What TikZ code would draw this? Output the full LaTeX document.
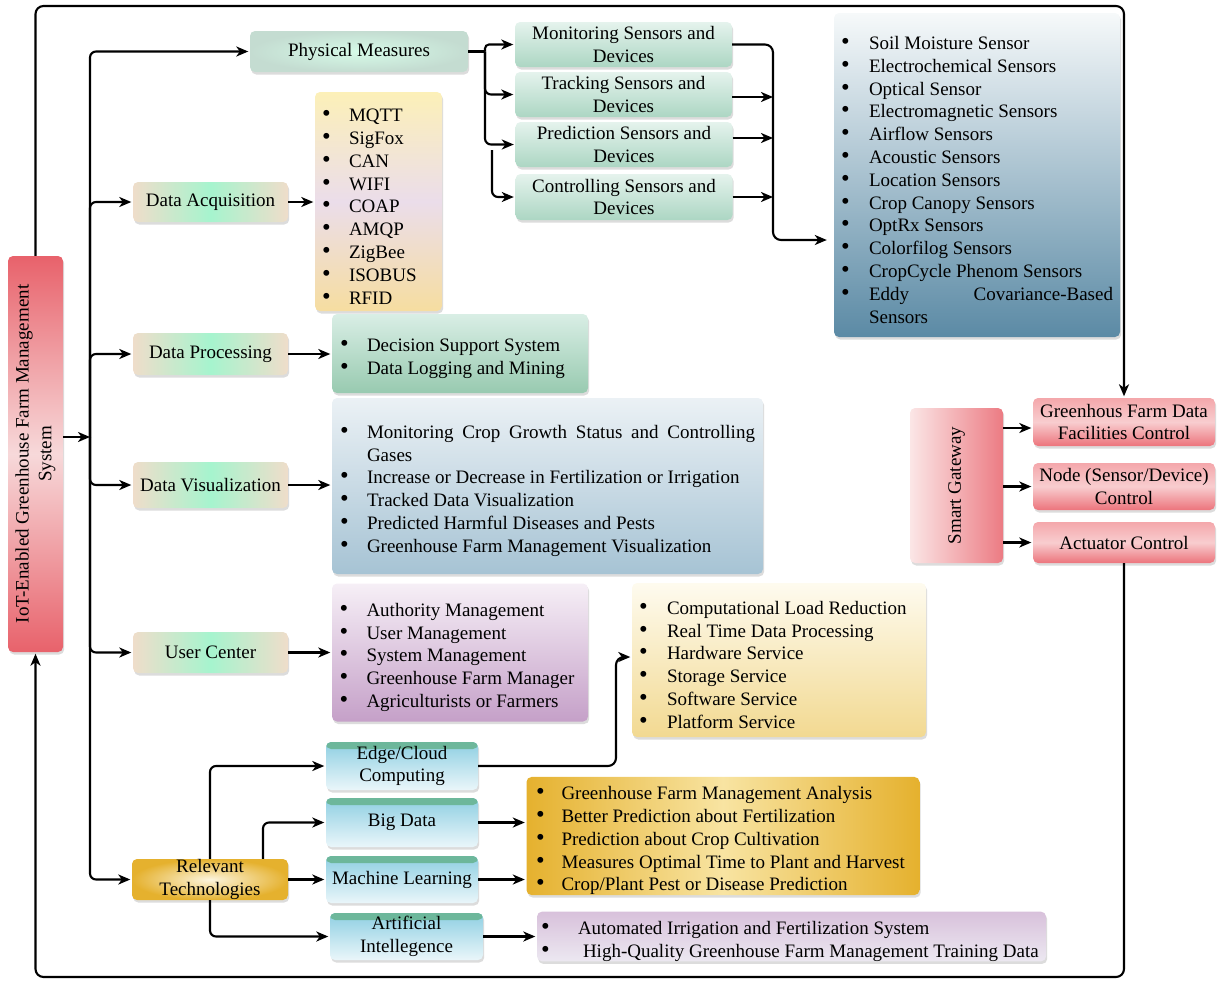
\documentclass[tikz,border=0pt]{standalone}
\usepackage{fontspec}
\setmainfont{Liberation Serif}
\usepackage{graphicx}
\usetikzlibrary{arrows.meta,shadows}
\tolerance=9999
\hbadness=10000

% palette
\definecolor{redA}{HTML}{E8626B}
\definecolor{redB}{HTML}{F7D9DA}
\definecolor{mintC}{HTML}{A6F4CE}
\definecolor{beigeO}{HTML}{EFDDCA}
\definecolor{pmIn}{HTML}{D6FBE8}
\definecolor{pmOut}{HTML}{C4DCD1}
\definecolor{senTop}{HTML}{E5F3ED}
\definecolor{senBot}{HTML}{ACD6C3}
\definecolor{slTop}{HTML}{F6F9FA}
\definecolor{slBot}{HTML}{5B8AA5}
\definecolor{mqTop}{HTML}{FCF0B8}
\definecolor{mqMid}{HTML}{EBDDEA}
\definecolor{mqBot}{HTML}{F6DDA0}
\definecolor{dpTop}{HTML}{D9EEE5}
\definecolor{dpBot}{HTML}{98CAB0}
\definecolor{dvTop}{HTML}{EBF1F5}
\definecolor{dvBot}{HTML}{A6C3D4}
\definecolor{ucTop}{HTML}{F6EFF6}
\definecolor{ucBot}{HTML}{C5A0C8}
\definecolor{clTop}{HTML}{FEFBEF}
\definecolor{clBot}{HTML}{F2D991}
\definecolor{goldE}{HTML}{E5B12E}
\definecolor{goldM}{HTML}{F8E4A2}
\definecolor{rtIn}{HTML}{FCF5DE}
\definecolor{aiTop}{HTML}{D8C1DB}
\definecolor{aiBot}{HTML}{ECE8F1}
\definecolor{techBand}{HTML}{6DB79B}
\definecolor{techTop}{HTML}{8ECFE2}
\definecolor{techBot}{HTML}{EAF6FA}
\definecolor{sgL}{HTML}{FBE6E6}
\definecolor{sgR}{HTML}{EC7B83}
\definecolor{ctTop}{HTML}{F4A7AB}
\definecolor{ctMid}{HTML}{F8CDCF}
\definecolor{ctBot}{HTML}{EC747C}

% one bullet entry of a list box; the optional argument is the hanging indent
\newcommand\litem[2][27pt]{\par\noindent\hangindent=#1\hangafter=1
  \makebox[#1][l]{\scalebox{1.3}{\textbullet}}#2\par}

\begin{document}
\begin{tikzpicture}[x=1pt,y=-1pt,
  every node/.style={font=\fontsize{19pt}{22.8pt}\selectfont},
  wire/.style={line width=2.1pt, rounded corners=6pt},
  conn/.style={wire, -{Stealth[length=12pt,width=10pt,inset=3.5pt]}, shorten >=1.5pt},
  box/.style={rounded corners=5pt, inner sep=0pt,
    drop shadow={shadow xshift=1.2pt, shadow yshift=-2.5pt, fill=black!25, opacity=0.55}},
  listbox/.style={box, align=justify, inner ysep=0pt},
  stage/.style={box, left color=beigeO, right color=beigeO, middle color=mintC,
    minimum width=155pt},
  sensor/.style={box, align=center, top color=senTop, bottom color=senBot, minimum width=217pt},
  tech/.style={box, align=center, top color=techTop, bottom color=techBot, minimum width=152pt,
    path picture={\fill[techBand] (path picture bounding box.north west)
      rectangle ([yshift=-7pt]path picture bounding box.north east);}},
  ctrl/.style={box, align=center, top color=ctTop, bottom color=ctBot, middle color=ctMid,
    minimum width=182pt},
]
\useasboundingbox (0,0) rectangle (1217,980);

% ---------- root and first level ----------
\node[box, top color=redA, bottom color=redA, middle color=redB,
      minimum width=55pt, minimum height=396pt] (iot) at (35.5,454)
  {\rotatebox{90}{\parbox{370pt}{\centering IoT-Enabled Greenhouse Farm Management\\System}}};

\node[box, inner color=pmIn, outer color=pmOut, minimum width=218pt, minimum height=41pt]
  (pm) at (359,51.5) {Physical Measures};
\node[stage, minimum height=40pt] (da) at (210.5,202) {Data Acquisition};
\node[stage, minimum height=42pt] (dp) at (210.5,354) {Data Processing};
\node[stage, minimum height=46pt] (dv) at (210.5,485) {Data Visualization};
\node[stage, minimum height=41pt] (uc) at (210.5,652.5) {User Center};
\node[box, align=center, inner color=rtIn, outer color=goldE, minimum width=156pt,
      minimum height=41pt] (rt) at (210,879.5) {Relevant\\Technologies};

% ---------- sensors and devices ----------
\node[sensor, minimum height=45pt] (mon) at (623.5,44.5) {Monitoring Sensors and\\Devices};
\node[sensor, minimum height=45pt] (trk) at (623.5,94.5) {Tracking Sensors and\\Devices};
\node[sensor, minimum height=45pt] (pre) at (624,144.5) {Prediction Sensors and\\Devices};
\node[sensor, minimum height=46pt] (con) at (624,197) {Controlling Sensors and\\Devices};

\node[listbox, top color=slTop, bottom color=slBot, text width=272pt, inner xsep=7pt,
      minimum height=324pt] (sl) at (977,175)
  {\litem[28pt]{Soil Moisture Sensor}
   \litem[28pt]{Electrochemical Sensors}
   \litem[28pt]{Optical Sensor}
   \litem[28pt]{Electromagnetic Sensors}
   \litem[28pt]{Airflow Sensors}
   \litem[28pt]{Acoustic Sensors}
   \litem[28pt]{Location Sensors}
   \litem[28pt]{Crop Canopy Sensors}
   \litem[28pt]{OptRx Sensors}
   \litem[28pt]{Colorfilog Sensors}
   \litem[28pt]{CropCycle Phenom Sensors}
   \litem[28pt]{Eddy\hfill Covariance-Based\break Sensors}};

% ---------- list boxes of the first level ----------
\node[listbox, top color=mqTop, bottom color=mqBot, middle color=mqMid, text width=113pt,
      inner xsep=7pt, minimum height=219pt] (mq) at (378.5,201.5)
  {\litem{MQTT}\litem{SigFox}\litem{CAN}\litem{WIFI}\litem{COAP}
   \litem{AMQP}\litem{ZigBee}\litem{ISOBUS}\litem{RFID}};

\node[listbox, top color=dpTop, bottom color=dpBot, text width=240pt, inner xsep=8pt,
      minimum height=79pt] (dpl) at (460,353.5)
  {\litem{Decision Support System}\litem{Data Logging and Mining}};

\node[listbox, top color=dvTop, bottom color=dvBot, text width=415pt, inner xsep=8pt,
      minimum height=176pt] (dvl) at (547.5,486)
  {\litem{Monitoring Crop Growth Status and Controlling\break Gases}
   \litem{Increase or Decrease in Fertilization or Irrigation}
   \litem{Tracked Data Visualization}
   \litem{Predicted Harmful Diseases and Pests}
   \litem{Greenhouse Farm Management Visualization}};

\node[listbox, top color=ucTop, bottom color=ucBot, text width=241pt, inner xsep=7.5pt,
      minimum height=138pt] (ucl) at (460,652.5)
  {\litem{Authority Management}\litem{User Management}\litem{System Management}
   \litem{Greenhouse Farm Manager}\litem{Agriculturists or Farmers}};

% ---------- relevant technologies ----------
\node[tech, minimum height=48pt] (ec) at (402,766) {Edge/Cloud\\Computing};
\node[tech, minimum height=49pt] (bd) at (402,822.5) {Big Data};
\node[tech, minimum height=47pt] (ml) at (402,879.5) {Machine Learning};
\node[tech, minimum width=153pt, minimum height=47pt] (ai) at (406.5,936.5) {Artificial\\Intellegence};

\node[listbox, top color=clTop, bottom color=clBot, text width=280pt, inner xsep=7pt,
      minimum height=154pt] (cl) at (779,660)
  {\litem[28pt]{Computational Load Reduction}
   \litem[28pt]{Real Time Data Processing}
   \litem[28pt]{Hardware Service}
   \litem[28pt]{Storage Service}
   \litem[28pt]{Software Service}
   \litem[28pt]{Platform Service}};

\node[listbox, left color=goldE, right color=goldE, middle color=goldM, text width=374pt,
      inner xsep=9.5pt, minimum height=114pt] (al) at (723,836)
  {\litem[25.5pt]{\mbox{Greenhouse Farm Management Analysis}}
   \litem[25.5pt]{\mbox{Better Prediction about Fertilization}}
   \litem[25.5pt]{\mbox{Prediction about Crop Cultivation}}
   \litem[25.5pt]{\mbox{Measures Optimal Time to Plant and Harvest}}
   \litem[25.5pt]{\mbox{Crop/Plant Pest or Disease Prediction}}};

\node[listbox, top color=aiTop, bottom color=aiBot, text width=501pt, inner xsep=4pt,
      minimum height=49pt] (ail) at (791.5,936.5)
  {\litem[37pt]{\mbox{Automated Irrigation and Fertilization System}}
   \litem[42pt]{\mbox{High-Quality Greenhouse Farm Management Training Data}}};

% ---------- gateway and control ----------
\node[box, left color=sgL, right color=sgR, minimum width=93pt, minimum height=155pt]
  (sg) at (956.5,485.5) {\rotatebox{90}{Smart Gateway}};
\node[ctrl, minimum height=48pt] (gd) at (1124,422) {Greenhous Farm Data\\Facilities Control};
\node[ctrl, minimum height=47pt] (nd) at (1124,486.5) {Node (Sensor/Device)\\Control};
\node[ctrl, minimum height=41pt] (ac) at (1124,542.5) {Actuator Control};

% ---------- connectors ----------
\coordinate (trunk) at (90,437);
\draw[conn, shorten >=0pt] (iot.east |- trunk) -- (trunk);
\foreach \n in {pm,da,dp,dv,uc,rt}
  \draw[conn] (trunk) |- (\n.west);

\draw[conn] (da.east) -- (mq.west |- da.east);
\draw[conn] (dp.east) -- (dpl.west |- dp.east);
\draw[conn] (dv.east) -- (dvl.west |- dv.east);
\draw[conn] (uc.east) -- (ucl.west |- uc.east);

% physical measures fan out to the sensor groups
\coordinate (pj) at (485,51.5);
\draw[wire] (pm.east) -- (pj);
\draw[conn, rounded corners=4pt] (pj) |- (mon.west);
\draw[conn] (pj) |- (trk.west);
\draw[conn] (pj) |- (pre.west);
\coordinate (cj) at (492,150);
\draw[conn] (cj) |- (con.west);

% sensor groups gather into the sensor list
\coordinate (sj) at (773,240);
\draw[conn, rounded corners=8pt, shorten >=7pt] (mon.east) -| (sj) -- (sl.west |- sj);
\draw[conn, shorten >=0pt] (trk.east |- 0,97) -- (sj |- 0,97);
\draw[conn, shorten >=0pt] (pre.east |- 0,138) -- (sj |- 0,138);
\draw[conn, shorten >=0pt] (con.east |- 0,197) -- (sj |- 0,197);

% relevant technologies
\draw[conn] (rt.north) |- (ec.west);
\draw[conn] ([xshift=53pt]rt.north) |- (bd.west);
\draw[conn] (rt.east) -- (ml.west);
\draw[conn] (rt.south) |- (ai.west);

\coordinate (ej) at (616,657);
\draw[conn, rounded corners=8pt] (ec.east) -| (ej) -- (cl.west |- ej);
\draw[conn] (bd.east) -- (al.west |- bd.east);
\draw[conn] (ml.east) -- (al.west |- ml.east);
\draw[conn] (ai.east) -- (ail.west |- ai.east);

% gateway to control units
\draw[conn] (sg.east |- 0,428) -- (gd.west |- 0,428);
\draw[conn] (sg.east |- nd.west) -- (nd.west);
\draw[conn] (sg.east |- ac.west) -- (ac.west);

% outer feedback loop
\coordinate (tl) at (35.5,6);
\coordinate (tr) at (1124,6);
\draw[conn, rounded corners=8pt] (iot.north) -- (tl) -- (tr) -- (gd.north);
\coordinate (br) at (1124,977);
\coordinate (bl) at (35.5,977);
\draw[conn, rounded corners=8pt] (ac.south) -- (br) -- (bl) -- (iot.south);
\end{tikzpicture}
\end{document}
